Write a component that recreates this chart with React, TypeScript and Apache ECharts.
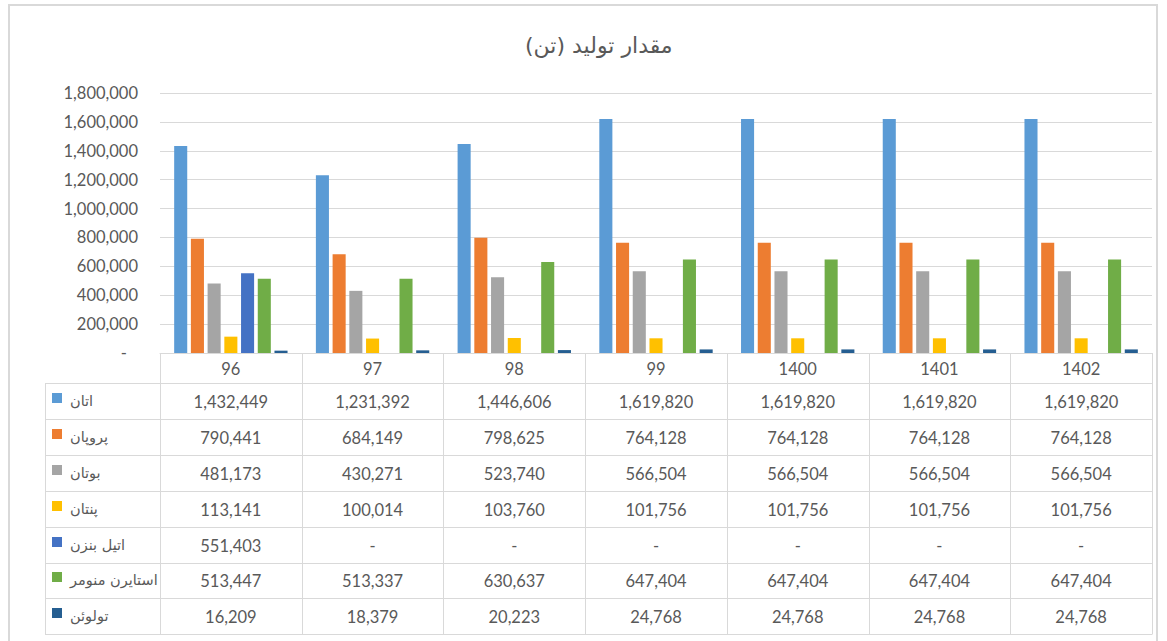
import React, { useEffect, useRef } from "react";
import * as echarts from "echarts";

const categories = ["96", "97", "98", "99", "1400", "1401", "1402"];
const seriesNames = ["اتان", "پروپان", "بوتان", "پنتان", "اتیل بنزن", "استایرن منومر", "تولوئن"];
const ethane = [1432449, 1231392, 1446606, 1619820, 1619820, 1619820, 1619820];
const propane = [790441, 684149, 798625, 764128, 764128, 764128, 764128];
const butane = [481173, 430271, 523740, 566504, 566504, 566504, 566504];
const pentane = [113141, 100014, 103760, 101756, 101756, 101756, 101756];
const ethylbenzene = [551403, null, null, null, null, null, null];
const styrene = [513447, 513337, 630637, 647404, 647404, 647404, 647404];
const toluene = [16209, 18379, 20223, 24768, 24768, 24768, 24768];
const colors = ["#5B9BD5", "#ED7D31", "#A5A5A5", "#FFC000", "#4472C4", "#70AD47", "#255E91"];
const yMin = 0;
const yMax = 1800000;
const yInterval = 200000;
const titleText = "\u200Fمقدار تولید (تن)\u200F";

const W = 1167;
const H = 641;
const gridLeft = 160;
const gridRightX = 1152;
const gridTop = 93;
const gridBottomY = 353;
const headerBottom = 383;
const rowH = 35.9;
const tableLeft = 45;
const textColor = "#595959";
const lineColor = "#D9D9D9";
const numFont = "Lato, 'DejaVu Sans', sans-serif";
const arFont = "'DejaVu Sans', sans-serif";

const fmt = (v: number | null) => (v === null || v === undefined ? "-" : v.toLocaleString("en-US"));

export default function App() {
  const ref = useRef<HTMLDivElement>(null);
  useEffect(() => {
    if (!ref.current) return;
    const chart = echarts.init(ref.current, undefined, { renderer: "svg" });
    const allSeries = [ethane, propane, butane, pentane, ethylbenzene, styrene, toluene];
    const colW = (gridRightX - gridLeft) / categories.length;
    const nRows = allSeries.length;
    const tableBottom = headerBottom + rowH * nRows;
    const graphics: any[] = [];
    graphics.push({
      type: "rect",
      shape: { x: 9, y: 5, width: 1148, height: 660 },
      style: { fill: "none", stroke: lineColor, lineWidth: 2 },
      silent: true,
    });
    for (let i = 0; i <= nRows; i++) {
      const y = Math.round(headerBottom + i * rowH) + 0.5;
      graphics.push({
        type: "line",
        shape: { x1: tableLeft, y1: y, x2: gridRightX, y2: y },
        style: { stroke: lineColor, lineWidth: 1 },
        silent: true,
      });
    }
    graphics.push({
      type: "line",
      shape: { x1: tableLeft + 0.5, y1: headerBottom, x2: tableLeft + 0.5, y2: Math.round(tableBottom) + 0.5 },
      style: { stroke: lineColor, lineWidth: 1 },
      silent: true,
    });
    for (let j = 0; j <= categories.length; j++) {
      const x = Math.round(gridLeft + j * colW) + 0.5;
      graphics.push({
        type: "line",
        shape: { x1: x, y1: gridBottomY, x2: x, y2: Math.round(tableBottom) + 0.5 },
        style: { stroke: lineColor, lineWidth: 1 },
        silent: true,
      });
    }
    allSeries.forEach((arr, i) => {
      const cy = headerBottom + (i + 0.5) * rowH;
      graphics.push({
        type: "rect",
        shape: { x: 52, y: Math.round(cy - 8), width: 10, height: 10 },
        style: { fill: colors[i] },
        silent: true,
      });
      graphics.push({
        type: "text",
        x: 70,
        y: cy,
        style: {
          text: seriesNames[i],
          fill: textColor,
          font: `14.5px ${arFont}`,
          textAlign: "left",
          textVerticalAlign: "middle",
        },
        silent: true,
      });
      arr.forEach((v, j) => {
        graphics.push({
          type: "text",
          x: gridLeft + (j + 0.5) * colW,
          y: cy + 1,
          style: {
            text: fmt(v),
            fill: textColor,
            font: `16.5px ${numFont}`,
            textAlign: "center",
            textVerticalAlign: "middle",
          },
          silent: true,
        });
      });
    });

    chart.setOption({
      animation: false,
      backgroundColor: "#ffffff",
      title: {
        text: titleText,
        left: 520,
        top: 29,
        textStyle: { fontSize: 22, fontWeight: "normal", color: textColor, fontFamily: arFont },
      },
      grid: {
        left: gridLeft,
        right: W - gridRightX,
        top: gridTop,
        bottom: H - gridBottomY,
        containLabel: false,
      },
      xAxis: {
        type: "category",
        data: categories,
        axisLine: { show: true, lineStyle: { color: lineColor, width: 1 } },
        axisTick: { show: false },
        axisLabel: {
          color: textColor,
          fontSize: 16.5,
          fontFamily: numFont,
          margin: 7,
        },
      },
      yAxis: {
        type: "value",
        min: yMin,
        max: yMax,
        interval: yInterval,
        axisLine: { show: false },
        axisTick: { show: false },
        splitLine: { lineStyle: { color: lineColor, width: 1 } },
        axisLabel: {
          color: textColor,
          fontSize: 16.5,
          fontFamily: numFont,
          margin: 22,
          formatter: (v: number) => (v === 0 ? "{d|-}" : v.toLocaleString("en-US")),
          rich: { d: { color: textColor, fontSize: 16.5, fontFamily: numFont, padding: [0, 11, 0, 0] } },
        },
      },
      series: allSeries.map((arr, i) => ({
        type: "bar",
        name: seriesNames[i],
        data: arr,
        itemStyle: { color: colors[i] },
        barGap: "28%",
        barCategoryGap: "20%",
      })),
      graphic: graphics,
    });
    return () => chart.dispose();
  }, []);
  return (
    <div
      ref={ref}
      style={{ position: "absolute", left: 0, top: 0, width: W, height: H, background: "#fff" }}
    />
  );
}
